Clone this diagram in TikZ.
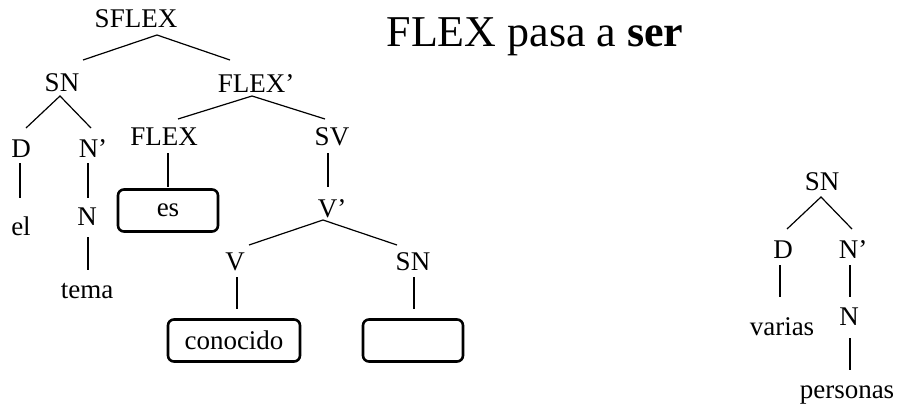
\documentclass[tikz,border=0pt]{standalone}
\usepackage{fontspec}
\setmainfont{Liberation Serif}
\begin{document}
\begin{tikzpicture}[x=1pt,y=-1pt,
  lbl/.style={inner sep=0pt, anchor=base, font=\fontsize{27}{32}\selectfont},
  wordbox/.style={draw, line width=2.6pt, rounded corners=6pt, inner sep=0pt,
    minimum height=42pt, font=\fontsize{27}{32}\selectfont},
  branch/.style={line width=1.2pt}]
\useasboundingbox (0,0) rectangle (900,407);
% title
\node[inner sep=0pt, anchor=base, font=\fontsize{44}{50}\selectfont] (title) at (535,46) {FLEX pasa a \textbf{ser}};
% left tree labels
\node[lbl] (sflex) at (136,27) {SFLEX};
\node[lbl] (sn1) at (62,91) {SN};
\node[lbl] (flexp) at (256,92) {FLEX’};
\node[lbl] (d1) at (21,157) {D};
\node[lbl] (np1) at (93,157) {N’};
\node[lbl] (el) at (21,235) {el};
\node[lbl] (n1) at (87,225) {N};
\node[lbl] (tema) at (87,298) {tema};
\node[lbl] (flex) at (164,145) {FLEX};
\node[lbl] (sv) at (332,145) {SV};
\node[wordbox, minimum width=100pt] (es) at (168,210.5) {es};
\node[lbl] (vp) at (332,217) {V’};
\node[lbl] (v) at (235,270) {V};
\node[lbl] (sn2) at (413,270) {SN};
\node[wordbox, minimum width=132pt] (conocido) at (234,340.5) {conocido};
\node[wordbox, minimum width=100pt] (empty) at (413,340.5) {};
% right tree labels
\node[lbl] (sn3) at (822,190) {SN};
\node[lbl] (d3) at (783,258) {D};
\node[lbl] (np3) at (853,258) {N’};
\node[lbl] (varias) at (782,335) {varias};
\node[lbl] (n3) at (849,325) {N};
\node[lbl] (personas) at (847,398) {personas};
% connector end points
\coordinate (a1) at (157,35); \coordinate (a1l) at (83,60); \coordinate (a1r) at (230,60);
\coordinate (a2) at (60,96); \coordinate (a2l) at (26,128); \coordinate (a2r) at (91,128);
\coordinate (a3) at (252,96); \coordinate (a3l) at (178,119); \coordinate (a3r) at (325,119);
\coordinate (a4) at (323,220); \coordinate (a4l) at (249,245); \coordinate (a4r) at (397,245);
\coordinate (a5) at (821,197); \coordinate (a5l) at (787,229); \coordinate (a5r) at (852,229);
\coordinate (d1t) at (20,163); \coordinate (d1b) at (20,198);
\coordinate (np1t) at (88,163); \coordinate (np1b) at (88,198);
\coordinate (n1t) at (88,237); \coordinate (n1b) at (88,270);
\coordinate (flext) at (168,153); \coordinate (flexb) at (168,187);
\coordinate (svt) at (328,153); \coordinate (svb) at (328,187);
\coordinate (vt) at (237,277); \coordinate (vb) at (237,309);
\coordinate (sn2t) at (414,277); \coordinate (sn2b) at (414,309);
\coordinate (d3t) at (780,265); \coordinate (d3b) at (780,297);
\coordinate (np3t) at (850,265); \coordinate (np3b) at (850,297);
\coordinate (n3t) at (850,338); \coordinate (n3b) at (850,370);
% connectors
\draw[branch] (a1l) -- (a1) -- (a1r);
\draw[branch] (a2l) -- (a2) -- (a2r);
\draw[branch] (a3l) -- (a3) -- (a3r);
\draw[branch] (a4l) -- (a4) -- (a4r);
\draw[branch] (a5l) -- (a5) -- (a5r);
\draw[branch] (d1t) -- (d1b);
\draw[branch] (np1t) -- (np1b);
\draw[branch] (n1t) -- (n1b);
\draw[branch] (flext) -- (flexb);
\draw[branch] (svt) -- (svb);
\draw[branch] (vt) -- (vb);
\draw[branch] (sn2t) -- (sn2b);
\draw[branch] (d3t) -- (d3b);
\draw[branch] (np3t) -- (np3b);
\draw[branch] (n3t) -- (n3b);
\end{tikzpicture}
\end{document}
